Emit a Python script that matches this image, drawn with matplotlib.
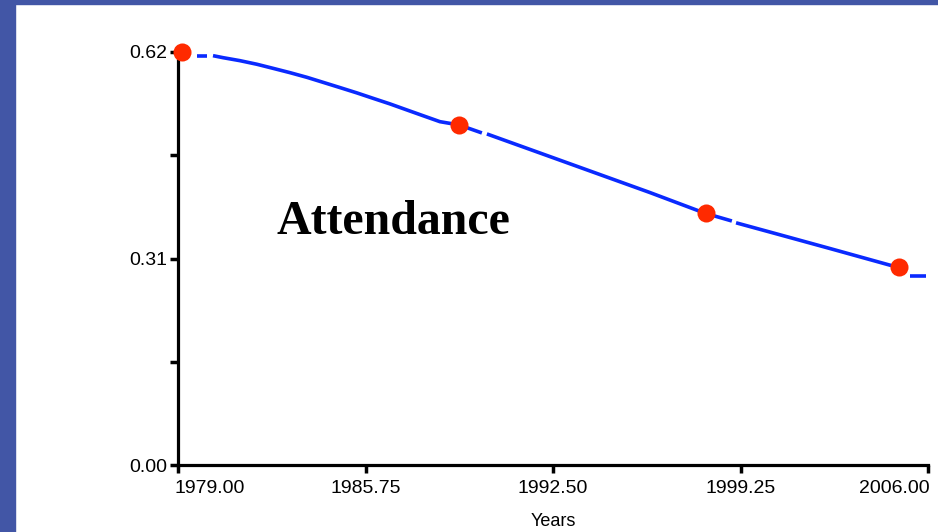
import numpy as np
import matplotlib.pyplot as plt
from matplotlib.patches import Rectangle
from matplotlib.transforms import ScaledTranslation

# observed points
years = [1979.15, 1989.1, 1998.0, 2004.95]
attendance = [0.62, 0.5105, 0.378, 0.297]

# fitted curve (gaps are in the original)
curve_pieces = [
    ([1979.68, 1980.04], [0.614, 0.614]),
    ([1980.26, 1980.62, 1981.23, 1981.84, 1982.42, 1983.03, 1983.64, 1984.22,
      1984.83, 1985.44, 1986.02, 1986.63, 1987.24, 1987.82, 1988.43, 1989.12, 1989.94],
     [0.6145, 0.6115, 0.607, 0.6016, 0.5955, 0.589, 0.582, 0.5745,
      0.5666, 0.5586, 0.5505, 0.5421, 0.533, 0.5244, 0.5154, 0.5105, 0.4985]),
    ([1990.12, 1992.39, 1994.19, 1995.99, 1997.97, 1998.94],
     [0.4970, 0.4630, 0.4360, 0.4090, 0.378, 0.3663]),
    ([1999.09, 2000.67, 2002.47, 2004.63, 2004.95],
     [0.3636, 0.3456, 0.325, 0.300, 0.297]),
    ([2005.35, 2005.93], [0.2837, 0.2837]),
]

xticks = [1979.00, 1985.75, 1992.50, 1999.25, 2006.00]
yticks = [0.0, 0.155, 0.31, 0.465, 0.62]
ylabels = ['0.00', '', '0.31', '', '0.62']

plt.rcParams['font.family'] = ['Liberation Sans', 'DejaVu Sans']

fig = plt.figure(figsize=(9.38, 5.32), dpi=100)
fig.patch.set_facecolor('white')

# blue frame strips at left and top
border = '#4256a6'
fig.patches.append(Rectangle((0, 0), 15 / 938, 1, transform=fig.transFigure,
                             color=border, zorder=0))
fig.patches.append(Rectangle((0, 1 - 4 / 532), 1, 4 / 532, transform=fig.transFigure,
                             color=border, zorder=0))

ax = fig.add_axes([178 / 938, 1 - 465 / 532, 750 / 938, 413 / 532])

for xs, ys in curve_pieces:
    ax.plot(xs, ys, color='#0a2aff', lw=2.6, solid_capstyle='butt', zorder=2, clip_on=False)

ax.plot(years, attendance, 'o', color='#ff2a00', markersize=13, markeredgewidth=0,
        zorder=3, clip_on=False)

ax.set_xlim(1979, 2006)
ax.set_ylim(0, 0.62)
ax.set_xticks(xticks)
ax.set_xticklabels([f'{t:.2f}' for t in xticks])
ax.set_yticks(yticks)
ax.set_yticklabels(ylabels)

for s in ['top', 'right']:
    ax.spines[s].set_visible(False)
for s in ['left', 'bottom']:
    ax.spines[s].set_linewidth(2.3)
ax.tick_params(direction='out', length=5.5, width=2.5, labelsize=14)
ax.tick_params(axis='x', pad=5)
ax.tick_params(axis='y', pad=2)

# keep the end labels inside the plot width, as in the original
xl = ax.get_xticklabels()
xl[0].set_ha('left')
xl[0].set_transform(xl[0].get_transform() + ScaledTranslation(-0.04, 0, fig.dpi_scale_trans))
xl[-1].set_ha('right')
xl[-1].set_transform(xl[-1].get_transform() + ScaledTranslation(0.02, 0, fig.dpi_scale_trans))

ax.set_xlabel('Years', fontsize=13, labelpad=12)

ax.text(0.131, 0.588, 'Attendance', transform=ax.transAxes, fontsize=34.5,
        fontweight='bold', family='Liberation Serif', va='center', ha='left')

plt.savefig('out.png', dpi=100)
